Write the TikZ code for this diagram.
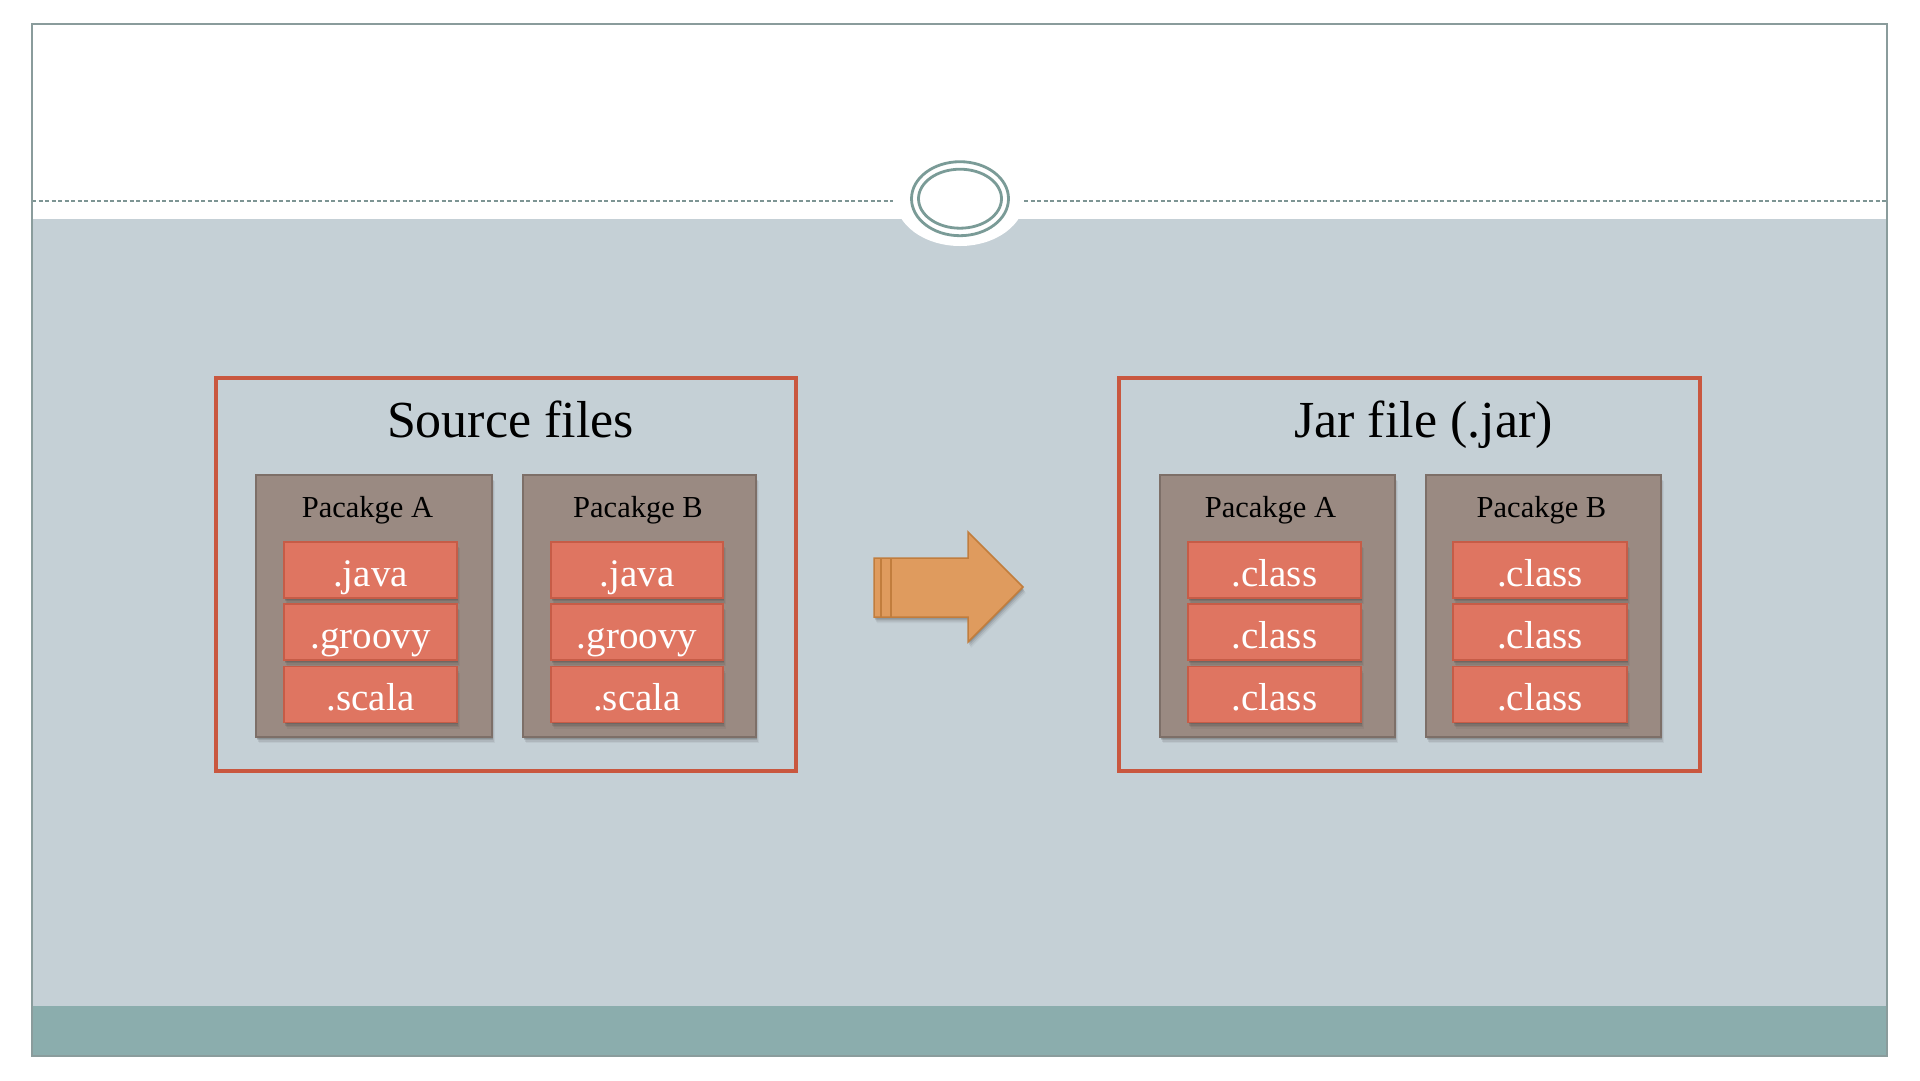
\documentclass[tikz,border=0pt]{standalone}
\usepackage{fontspec}
\setmainfont{Liberation Serif}
\usetikzlibrary{shadows}
\definecolor{bodygray}{HTML}{C5D0D6}
\definecolor{bandteal}{HTML}{8BADAD}
\definecolor{framecol}{HTML}{8A9C9C}
\definecolor{dashcol}{HTML}{7D9594}
\definecolor{ringcol}{HTML}{7A9B97}
\definecolor{redbox}{HTML}{C9573F}
\definecolor{filefill}{HTML}{DF7561}
\definecolor{fileline}{HTML}{C65C47}
\definecolor{pkgfill}{HTML}{9A8A82}
\definecolor{pkgline}{HTML}{7D6F68}
\definecolor{arrowfill}{HTML}{DF9B5E}
\definecolor{arrowline}{HTML}{C17D3D}
\tikzset{
  softshadow/.style={
    drop shadow={shadow xshift=0.5pt, shadow yshift=-1.5pt, opacity=0.16, fill=black!80},
    drop shadow={shadow xshift=1.2pt, shadow yshift=-3pt, opacity=0.14, fill=black!80},
    drop shadow={shadow xshift=2pt, shadow yshift=-4.5pt, opacity=0.10, fill=black!80},
    drop shadow={shadow xshift=2.8pt, shadow yshift=-6pt, opacity=0.06, fill=black!80}},
  groupbox/.style={draw=redbox, line width=4pt, inner sep=0pt, outer sep=0pt, anchor=north west},
  pkgbox/.style={softshadow, draw=pkgline, fill=pkgfill, line width=1.5pt, inner sep=0pt, outer sep=0pt, anchor=north west},
  filebox/.style={softshadow, draw=fileline, fill=filefill, line width=1.5pt, inner sep=0pt, outer sep=0pt, anchor=north west,
    minimum height=56pt},
  titletext/.style={anchor=base, inner sep=0pt, font=\fontsize{52}{60}\selectfont},
  pkgtext/.style={anchor=base, inner sep=0pt, font=\fontsize{30.5}{36}\selectfont},
  filetext/.style={anchor=base, inner sep=0pt, text=white, font=\fontsize{39}{46}\selectfont},
}
\begin{document}
\begin{tikzpicture}[x=1pt,y=-1pt]
\useasboundingbox (0,0) rectangle (1920,1080);
\fill[white] (0,0) rectangle (1920,1080);
% slide body
\fill[bodygray] (32,219) rectangle (1887,1006);
\fill[bandteal] (32,1006) rectangle (1887,1056);
\fill[white] (960,198) ellipse [x radius=65pt, y radius=48pt];
% dashed rule
\coordinate (dl1) at (32,201);
\coordinate (dl2) at (893,201);
\coordinate (dr1) at (1024,201);
\coordinate (dr2) at (1887,201);
\draw[dashcol, line width=1.3pt, dash pattern=on 4pt off 2.5pt] (dl1) -- (dl2);
\draw[dashcol, line width=1.3pt, dash pattern=on 4pt off 2.5pt] (dr1) -- (dr2);
% rings
\draw[ringcol, line width=2.8pt, fill=white] (960,198.7) ellipse [x radius=48.5pt, y radius=37pt];
\draw[ringcol, line width=2.8pt] (960,198.7) ellipse [x radius=41.5pt, y radius=29.5pt];
% frame
\draw[framecol, line width=1.8pt] (32,24) rectangle (1887,1056);

% group boxes
\node[groupbox, minimum width=580pt, minimum height=393pt] (srcgrp) at (216,378) {};
\node[groupbox, minimum width=581pt, minimum height=393pt] (jargrp) at (1119,378) {};
\node[titletext] (srctitle) at (510.5,437) {Source files};
\node[titletext] (jartitle) at (1423.5,437) {Jar file (.jar)};

% packages
\node[pkgbox, minimum width=236pt, minimum height=262pt] (pLA) at (256,475) {};
\node[pkgbox, minimum width=233pt, minimum height=262pt] (pLB) at (523,475) {};
\node[pkgbox, minimum width=235pt, minimum height=262pt] (pRA) at (1160,475) {};
\node[pkgbox, minimum width=235pt, minimum height=262pt] (pRB) at (1426,475) {};
\node[pkgtext] (tLA) at (367.5,517) {Pacakge A};
\node[pkgtext] (tLB) at (638,517) {Pacakge B};
\node[pkgtext] (tRA) at (1270.5,517) {Pacakge A};
\node[pkgtext] (tRB) at (1541.5,517) {Pacakge B};

% files, left A
\node[filebox, minimum width=173pt] (fLA1) at (284,542) {};
\node[filebox, minimum width=173pt] (fLA2) at (284,604) {};
\node[filebox, minimum width=173pt] (fLA3) at (284,666.5) {};
% files, left B
\node[filebox, minimum width=172pt] (fLB1) at (551,542) {};
\node[filebox, minimum width=172pt] (fLB2) at (551,604) {};
\node[filebox, minimum width=172pt] (fLB3) at (551,666.5) {};
% files, right A
\node[filebox, minimum width=173pt] (fRA1) at (1188,542) {};
\node[filebox, minimum width=173pt] (fRA2) at (1188,604) {};
\node[filebox, minimum width=173pt] (fRA3) at (1188,666.5) {};
% files, right B
\node[filebox, minimum width=174pt] (fRB1) at (1453,542) {};
\node[filebox, minimum width=174pt] (fRB2) at (1453,604) {};
\node[filebox, minimum width=174pt] (fRB3) at (1453,666.5) {};

\node[filetext] (xLA1) at (370.5,586) {.java};
\node[filetext] (xLA2) at (370.5,648) {.groovy};
\node[filetext] (xLA3) at (370.5,710) {.scala};
\node[filetext] (xLB1) at (637,586) {.java};
\node[filetext] (xLB2) at (637,648) {.groovy};
\node[filetext] (xLB3) at (637,710) {.scala};
\node[filetext] (xRA1) at (1274.5,586) {.class};
\node[filetext] (xRA2) at (1274.5,648) {.class};
\node[filetext] (xRA3) at (1274.5,710) {.class};
\node[filetext] (xRB1) at (1540,586) {.class};
\node[filetext] (xRB2) at (1540,648) {.class};
\node[filetext] (xRB3) at (1540,710) {.class};

% block arrow
\draw[softshadow, draw=arrowline, fill=arrowfill, line width=1.5pt, line join=miter]
  (874,558) -- (968,558) -- (968,532) -- (1023,587) -- (968,642) -- (968,617) -- (874,617) -- cycle;
\draw[arrowline, line width=1.5pt] (881,558) -- (881,617);
\draw[arrowline, line width=1.5pt] (891,558) -- (891,617);
\end{tikzpicture}
\end{document}
